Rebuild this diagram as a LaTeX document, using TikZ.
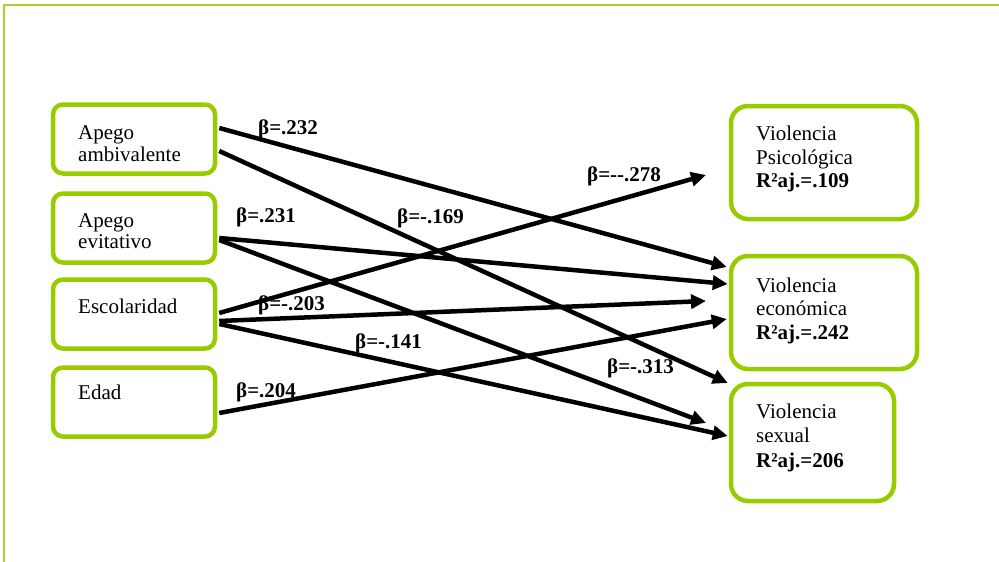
\documentclass[tikz,border=0pt]{standalone}
\usepackage{fontspec}
\setmainfont{Liberation Serif}
\usetikzlibrary{arrows.meta,calc}
\definecolor{lgreen}{RGB}{153,204,0}
\begin{document}
\begin{tikzpicture}[x=1pt,y=-1pt,
  box/.style={draw=lgreen,line width=4.5pt,rounded corners=10pt,minimum width=162pt,minimum height=69pt,inner sep=0pt},
  rbox/.style={draw=lgreen,line width=4.5pt,rounded corners=17pt,inner sep=0pt},
  txt/.style={anchor=base west,inner sep=0pt,font=\fontsize{21}{23}\selectfont},
  btxt/.style={anchor=base west,inner sep=0pt,font=\fontsize{21}{23}\selectfont\bfseries},
  arr/.style={line width=4.5pt,-{Triangle[length=15pt,width=14pt]}}]
\useasboundingbox (0,0) rectangle (999,562);
\draw[lgreen!85!white,line width=2.5pt] (4,562) -- (4,5) -- (999,5);
% left boxes
\node[box] (amb) at (134,139) {};
\node[box] (evit) at (134,228) {};
\node[box] (esc) at (134,314) {};
\node[box] (edad) at (134,402) {};
% right boxes
\node[rbox,minimum width=186pt,minimum height=113pt] (psi) at (824,162.5) {};
\node[rbox,minimum width=186pt,minimum height=113pt] (eco) at (824,312.5) {};
\node[rbox,minimum width=163pt,minimum height=117pt] (sex) at (812.5,442.5) {};
% texts
\node[txt] (amb1) at (78,139) {Apego};
\node[txt] (amb2) at (78,161) {ambivalente};
\node[txt] (evi1) at (78,227) {Apego};
\node[txt] (evi2) at (78,248) {evitativo};
\node[txt] (esc1) at (78,313) {Escolaridad};
\node[txt] (eda1) at (78,399) {Edad};
\node[txt] (psi1) at (756,140) {Violencia};
\node[txt] (psi2) at (756,164) {Psicológica};
\node[btxt] (psi3) at (756,187) {R²aj.=.109};
\node[txt] (eco1) at (756,292) {Violencia};
\node[txt] (eco2) at (756,315) {económica};
\node[btxt] (eco3) at (756,339) {R²aj.=.242};
\node[txt] (sex1) at (756,418) {Violencia};
\node[txt] (sex2) at (756,442) {sexual};
\node[btxt] (sex3) at (756,467) {R²aj.=206};
% free arrow ends
\coordinate (e4) at (706,423);
\coordinate (e5) at (706,175);
\coordinate (e6) at (706,301);
% arrows
\draw[arr] ($(amb.east)+(2,-11)$) -- ($(eco.west)+(-2,-45.5)$);
\draw[arr] ($(amb.east)+(2,12)$) -- ($(sex.west)+(-1,-59.5)$);
\draw[arr] ($(evit.east)+(2,10)$) -- ($(eco.west)+(-1,-28.5)$);
\draw[arr] ($(evit.east)+(2,12)$) -- (e4);
\draw[arr] ($(esc.east)+(2,-1)$) -- (e5);
\draw[arr] ($(esc.east)+(2,7)$) -- (e6);
\draw[arr] ($(esc.east)+(2,10)$) -- ($(sex.west)+(-1,-6.5)$);
\draw[arr] ($(edad.east)+(2,11)$) -- ($(eco.west)+(-2,6.5)$);
% labels
\node[btxt] (b1) at (258,134) {β=.232};
\node[btxt] (b2) at (236,222) {β=.231};
\node[btxt] (b3) at (258,310) {β=-.203};
\node[btxt] (b4) at (236,397) {β=.204};
\node[btxt] (b5) at (397,223) {β=-.169};
\node[btxt] (b6) at (355,348) {β=-.141};
\node[btxt] (b7) at (587,181) {β=-{}-.278};
\node[btxt] (b8) at (607,373) {β=-.313};
\end{tikzpicture}
\end{document}
